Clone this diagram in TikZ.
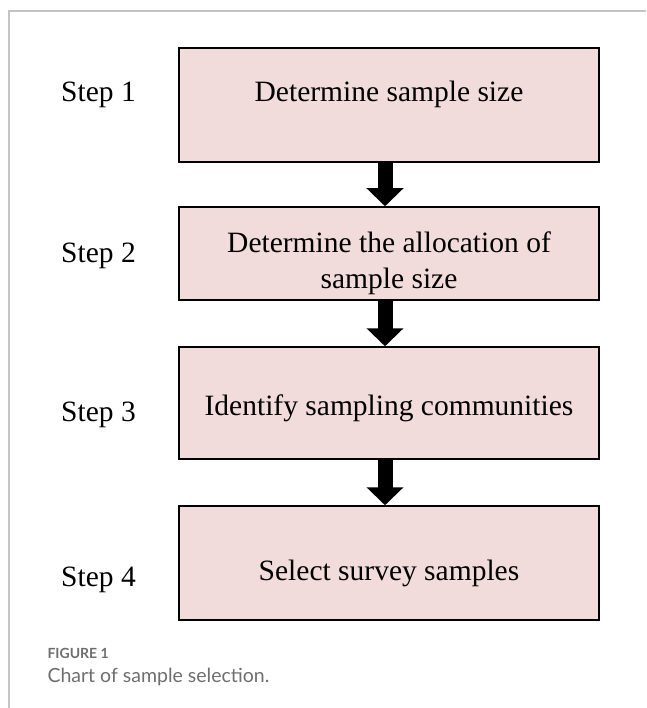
\documentclass[tikz,border=0pt]{standalone}
\usepackage{fontspec}
\setmainfont{Liberation Serif}
\newfontfamily\capfont{Lato}
\usetikzlibrary{arrows.meta}
\definecolor{boxpink}{HTML}{F2DCDB}
\definecolor{capgray}{HTML}{6E6E6E}
\definecolor{framegray}{HTML}{C4C4C4}
\tikzset{
  stepbox/.style={draw=black, line width=1.5pt, fill=boxpink, minimum width=420pt, inner sep=0pt},
  steptext/.style={font=\fontsize{29.5}{35}\selectfont, anchor=base, align=center},
  flow/.style={line width=15pt, -{Triangle[length=18pt,width=36pt]}},
}
\begin{document}
\begin{tikzpicture}[x=1pt,y=-1pt]
  \useasboundingbox (0,0) rectangle (646,708);
  \draw[framegray, line width=1.5pt] (646,11) -- (9,11) -- (9,708);
  % boxes
  \node[stepbox, minimum height=114pt] (b1) at (389,105) {};
  \node[stepbox, minimum height=93pt] (b2) at (389,253.5) {};
  \node[stepbox, minimum height=112pt] (b3) at (389,403) {};
  \node[stepbox, minimum height=114pt] (b4) at (389,563) {};
  \node[steptext] (t1) at (389,102) {Determine sample size};
  \node[steptext] (t2) at (389,253) {Determine the allocation of};
  \node[steptext] (t2b) at (389,288) {sample size};
  \node[steptext] (t3) at (389,415) {Identify sampling communities};
  \node[steptext] (t4) at (389,580) {Select survey samples};
  % step labels
  \node[steptext] (s1) at (98.5,102) {Step 1};
  \node[steptext] (s2) at (98.5,262) {Step 2};
  \node[steptext] (s3) at (98.5,421) {Step 3};
  \node[steptext] (s4) at (98.5,586) {Step 4};
  % arrows
  \draw[flow] ([xshift=-4pt]b1.south) -- ([xshift=-4pt]b2.north);
  \draw[flow] ([xshift=-4pt]b2.south) -- ([xshift=-4pt]b3.north);
  \draw[flow] ([xshift=-4pt]b3.south) -- ([xshift=-4pt]b4.north);
  % caption
  \node[anchor=base west, capgray, font=\capfont\bfseries\fontsize{14}{16}\selectfont] (fig) at (44,658) {FIGURE 1};
  \node[anchor=base west, capgray, font=\capfont\fontsize{19.5}{22}\selectfont] (cap) at (44,682) {Chart of sample selection.};
\end{tikzpicture}
\end{document}
